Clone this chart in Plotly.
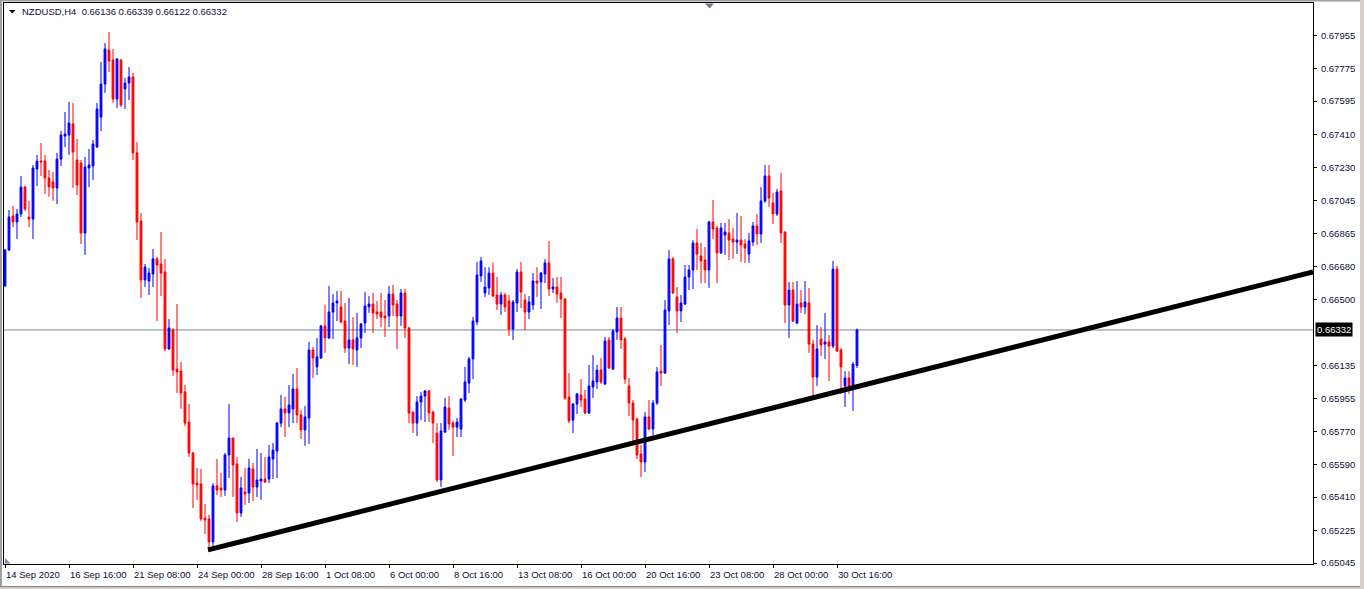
import plotly.graph_objects as go

symbol_title = "NZDUSD,H4\u00a0\u00a00.66136 0.66339 0.66122 0.66332"

opens = [0.66575, 0.66773, 0.66961, 0.66928, 0.66972, 0.67121, 0.66955, 0.66944, 0.67220, 0.67264,
         0.67264, 0.67171, 0.67149, 0.67115, 0.67275, 0.67402, 0.67408, 0.67469, 0.67270, 0.67253,
         0.66867, 0.67226, 0.67237, 0.67342, 0.67507, 0.67689, 0.67877, 0.67822, 0.67607, 0.67822,
         0.67662, 0.67695, 0.67728, 0.67309, 0.66933, 0.66608, 0.66602, 0.66641, 0.66724, 0.66696,
         0.66652, 0.66227, 0.66332, 0.66116, 0.66105, 0.65990, 0.65824, 0.65653, 0.65487, 0.65482,
         0.65294, 0.65289, 0.65162, 0.65471, 0.65460, 0.65449, 0.65642, 0.65736, 0.65592, 0.65322,
         0.65438, 0.65432, 0.65565, 0.65465, 0.65498, 0.65509, 0.65509, 0.65620, 0.65664, 0.65818,
         0.65896, 0.65874, 0.65896, 0.66006, 0.65863, 0.65780, 0.65846, 0.66221, 0.66128, 0.66177,
         0.66354, 0.66288, 0.66431, 0.66481, 0.66459, 0.66381, 0.66232, 0.66277, 0.66221, 0.66288,
         0.66370, 0.66459, 0.66475, 0.66431, 0.66431, 0.66409, 0.66409, 0.66530, 0.66475, 0.66409,
         0.66536, 0.66343, 0.65879, 0.65818, 0.65934, 0.65967, 0.65995, 0.65879, 0.65763, 0.65504,
         0.65769, 0.65901, 0.65818, 0.65796, 0.65785, 0.65945, 0.66039, 0.66172, 0.66376, 0.66630,
         0.66536, 0.66564, 0.66646, 0.66525, 0.66475, 0.66525, 0.66492, 0.66337, 0.66481, 0.66652,
         0.66497, 0.66431, 0.66470, 0.66602, 0.66597, 0.66641, 0.66702, 0.66558, 0.66569, 0.66536,
         0.66503, 0.65962, 0.65835, 0.65923, 0.65973, 0.65951, 0.65874, 0.66017, 0.66045, 0.66111,
         0.66034, 0.66277, 0.66116, 0.66321, 0.66398, 0.66282, 0.66023, 0.65929, 0.65841, 0.65647,
         0.65603, 0.65852, 0.65785, 0.65929, 0.66105, 0.66094, 0.66437, 0.66724, 0.66514, 0.66437,
         0.66475, 0.66624, 0.66663, 0.66812, 0.66740, 0.66718, 0.66663, 0.66928, 0.66895, 0.66757,
         0.66856, 0.66867, 0.66834, 0.66817, 0.66828, 0.66806, 0.66751, 0.66817, 0.66906, 0.66862,
         0.67044, 0.67182, 0.67033, 0.66972, 0.67099, 0.66873, 0.66470, 0.66552, 0.66370, 0.66481,
         0.66459, 0.66481, 0.66254, 0.66072, 0.66282, 0.66254, 0.66266, 0.66243, 0.66668, 0.66221,
         0.66023, 0.66067, 0.66023, 0.66136]

highs = [0.66779, 0.66994, 0.67016, 0.67000, 0.67182, 0.67126, 0.67044, 0.67242, 0.67298, 0.67364,
         0.67298, 0.67215, 0.67204, 0.67309, 0.67430, 0.67535, 0.67590, 0.67585, 0.67386, 0.67270,
         0.67287, 0.67331, 0.67380, 0.67585, 0.67811, 0.67916, 0.67976, 0.67883, 0.67833, 0.67827,
         0.67723, 0.67783, 0.67750, 0.67369, 0.66977, 0.66696, 0.66674, 0.66779, 0.66735, 0.66873,
         0.66724, 0.66392, 0.66343, 0.66475, 0.66155, 0.66028, 0.65923, 0.65658, 0.65570, 0.65565,
         0.65371, 0.65311, 0.65487, 0.65620, 0.65543, 0.65653, 0.65923, 0.65736, 0.65631, 0.65520,
         0.65570, 0.65620, 0.65598, 0.65675, 0.65653, 0.65631, 0.65697, 0.65708, 0.65825, 0.65973,
         0.65962, 0.66028, 0.66089, 0.66122, 0.65890, 0.65912, 0.66266, 0.66238, 0.66288, 0.66360,
         0.66470, 0.66575, 0.66530, 0.66547, 0.66547, 0.66481, 0.66508, 0.66403, 0.66426, 0.66370,
         0.66541, 0.66519, 0.66536, 0.66492, 0.66536, 0.66497, 0.66575, 0.66580, 0.66497, 0.66558,
         0.66558, 0.66348, 0.65879, 0.65967, 0.65990, 0.66001, 0.66001, 0.65885, 0.65818, 0.65818,
         0.65956, 0.65967, 0.65830, 0.65846, 0.65956, 0.66128, 0.66183, 0.66403, 0.66707, 0.66735,
         0.66679, 0.66679, 0.66702, 0.66624, 0.66541, 0.66536, 0.66525, 0.66497, 0.66668, 0.66707,
         0.66530, 0.66519, 0.66646, 0.66679, 0.66652, 0.66724, 0.66823, 0.66619, 0.66624, 0.66624,
         0.66508, 0.66094, 0.65929, 0.65984, 0.66061, 0.66001, 0.66139, 0.66194, 0.66139, 0.66177,
         0.66293, 0.66293, 0.66337, 0.66459, 0.66459, 0.66293, 0.66067, 0.65945, 0.65846, 0.65697,
         0.65879, 0.65945, 0.65945, 0.66128, 0.66249, 0.66497, 0.66773, 0.66735, 0.66569, 0.66525,
         0.66690, 0.66690, 0.66828, 0.66889, 0.66812, 0.66790, 0.66933, 0.67049, 0.66906, 0.66922,
         0.66922, 0.66944, 0.66895, 0.66977, 0.66961, 0.66834, 0.66867, 0.66928, 0.66972, 0.67121,
         0.67242, 0.67242, 0.67088, 0.67110, 0.67198, 0.66873, 0.66597, 0.66597, 0.66602, 0.66552,
         0.66602, 0.66564, 0.66277, 0.66359, 0.66348, 0.66426, 0.66304, 0.66713, 0.66685, 0.66232,
         0.66105, 0.66105, 0.66155, 0.66339]

lows = [0.66569, 0.66768, 0.66900, 0.66834, 0.66955, 0.66988, 0.66900, 0.66834, 0.67126, 0.67182,
        0.67082, 0.67066, 0.67044, 0.67027, 0.67237, 0.67342, 0.67298, 0.67115, 0.67077, 0.66806,
        0.66746, 0.67121, 0.67160, 0.67336, 0.67430, 0.67640, 0.67756, 0.67585, 0.67557, 0.67562,
        0.67551, 0.67601, 0.67270, 0.66828, 0.66508, 0.66569, 0.66525, 0.66569, 0.66381, 0.66519,
        0.66216, 0.66222, 0.66078, 0.65984, 0.65896, 0.65802, 0.65631, 0.65349, 0.65394, 0.65278,
        0.65206, 0.65107, 0.65134, 0.65421, 0.65410, 0.65416, 0.65515, 0.65410, 0.65272, 0.65300,
        0.65366, 0.65377, 0.65388, 0.65410, 0.65394, 0.65487, 0.65487, 0.65509, 0.65515, 0.65796,
        0.65741, 0.65796, 0.65818, 0.65818, 0.65730, 0.65692, 0.65703, 0.66067, 0.66083, 0.66172,
        0.66205, 0.66282, 0.66282, 0.66381, 0.66370, 0.66205, 0.66144, 0.66139, 0.66128, 0.66232,
        0.66315, 0.66426, 0.66315, 0.66392, 0.66348, 0.66293, 0.66348, 0.66409, 0.66227, 0.66354,
        0.66288, 0.65818, 0.65763, 0.65747, 0.65835, 0.65824, 0.65824, 0.65708, 0.65493, 0.65465,
        0.65763, 0.65780, 0.65636, 0.65741, 0.65741, 0.65934, 0.65984, 0.66061, 0.66359, 0.66597,
        0.66514, 0.66525, 0.66514, 0.66442, 0.66415, 0.66431, 0.66299, 0.66277, 0.66431, 0.66453,
        0.66332, 0.66392, 0.66442, 0.66514, 0.66448, 0.66591, 0.66519, 0.66536, 0.66481, 0.66398,
        0.65945, 0.65818, 0.65763, 0.65868, 0.65907, 0.65868, 0.65868, 0.65956, 0.66006, 0.66034,
        0.66028, 0.66116, 0.66111, 0.66277, 0.66227, 0.66034, 0.65857, 0.65714, 0.65620, 0.65520,
        0.65548, 0.65780, 0.65752, 0.65918, 0.66023, 0.66089, 0.66359, 0.66530, 0.66315, 0.66376,
        0.66470, 0.66552, 0.66558, 0.66663, 0.66591, 0.66591, 0.66564, 0.66834, 0.66591, 0.66751,
        0.66746, 0.66718, 0.66724, 0.66751, 0.66707, 0.66702, 0.66702, 0.66795, 0.66801, 0.66812,
        0.67033, 0.67011, 0.66917, 0.66961, 0.66812, 0.66370, 0.66288, 0.66376, 0.66365, 0.66426,
        0.66420, 0.66205, 0.65967, 0.66023, 0.66188, 0.66172, 0.66050, 0.66232, 0.66210, 0.65979,
        0.65907, 0.65979, 0.65885, 0.66122]

closes = [0.66773, 0.66955, 0.66928, 0.66972, 0.67121, 0.67000, 0.66944, 0.67226, 0.67264, 0.67259,
          0.67171, 0.67121, 0.67115, 0.67275, 0.67408, 0.67413, 0.67474, 0.67314, 0.67132, 0.66867,
          0.67231, 0.67242, 0.67358, 0.67551, 0.67689, 0.67883, 0.67816, 0.67607, 0.67827, 0.67574,
          0.67695, 0.67728, 0.67309, 0.66928, 0.66608, 0.66679, 0.66646, 0.66724, 0.66690, 0.66646,
          0.66227, 0.66343, 0.66111, 0.66100, 0.65984, 0.65818, 0.65653, 0.65482, 0.65476, 0.65289,
          0.65283, 0.65162, 0.65471, 0.65449, 0.65449, 0.65642, 0.65736, 0.65587, 0.65322, 0.65460,
          0.65427, 0.65570, 0.65465, 0.65504, 0.65509, 0.65493, 0.65631, 0.65669, 0.65818, 0.65896,
          0.65874, 0.65918, 0.66006, 0.65863, 0.65780, 0.65852, 0.66221, 0.66177, 0.66183, 0.66354,
          0.66288, 0.66431, 0.66481, 0.66492, 0.66376, 0.66232, 0.66277, 0.66227, 0.66288, 0.66365,
          0.66464, 0.66475, 0.66426, 0.66420, 0.66403, 0.66398, 0.66530, 0.66470, 0.66409, 0.66536,
          0.66343, 0.65874, 0.65818, 0.65934, 0.65967, 0.65995, 0.65874, 0.65818, 0.65504, 0.65774,
          0.65907, 0.65813, 0.65796, 0.65824, 0.65951, 0.66045, 0.66172, 0.66381, 0.66635, 0.66713,
          0.66569, 0.66646, 0.66519, 0.66475, 0.66525, 0.66459, 0.66337, 0.66486, 0.66652, 0.66541,
          0.66431, 0.66486, 0.66602, 0.66591, 0.66646, 0.66702, 0.66558, 0.66569, 0.66530, 0.66503,
          0.65956, 0.65830, 0.65923, 0.65979, 0.65945, 0.65874, 0.66023, 0.66050, 0.66111, 0.66045,
          0.66271, 0.66122, 0.66326, 0.66398, 0.66277, 0.66061, 0.65929, 0.65835, 0.65642, 0.65603,
          0.65852, 0.65785, 0.65929, 0.66100, 0.66094, 0.66442, 0.66724, 0.66536, 0.66437, 0.66481,
          0.66624, 0.66663, 0.66812, 0.66751, 0.66713, 0.66663, 0.66928, 0.66889, 0.66757, 0.66895,
          0.66873, 0.66828, 0.66817, 0.66828, 0.66801, 0.66784, 0.66823, 0.66906, 0.66862, 0.67044,
          0.67182, 0.67060, 0.66972, 0.67093, 0.66867, 0.66470, 0.66552, 0.66381, 0.66475, 0.66459,
          0.66486, 0.66254, 0.66072, 0.66227, 0.66249, 0.66266, 0.66243, 0.66668, 0.66216, 0.66128,
          0.66067, 0.66017, 0.66144, 0.66332]

bar_index = list(range(len(opens)))

tick_bars = [0, 16, 32, 48, 64, 80, 96, 112, 128, 144, 160, 176, 192, 208]
tick_labels = ["14 Sep 2020", "16 Sep 16:00", "21 Sep 08:00", "24 Sep 00:00", "28 Sep 16:00",
               "1 Oct 08:00", "6 Oct 00:00", "8 Oct 16:00", "13 Oct 08:00", "16 Oct 00:00",
               "20 Oct 16:00", "23 Oct 08:00", "28 Oct 00:00", "30 Oct 16:00"]

price_ticks = [0.65045, 0.65225, 0.65410, 0.65590, 0.65770, 0.65955, 0.66135, 0.66500,
               0.66680, 0.66865, 0.67045, 0.67230, 0.67410, 0.67595, 0.67775, 0.67955]

trend_x = [50.75, 327.0]
trend_y = [0.65118, 0.66652]

last_price = 0.66332

# ---------------- layout geometry (pixels) ----------------
W, H = 1364, 589
L, R, T, B = 4, 1313, 3, 564
FONT = "Liberation Sans, Arial, sans-serif"
TXT = "#0c0c40"


def fx(px):
    return (px - L) / (R - L)


def fy(py):
    return (B - py) / (B - T)


fig = go.Figure()

fig.add_trace(go.Candlestick(
    x=bar_index, open=opens, high=highs, low=lows, close=closes,
    increasing=dict(line=dict(color="#0000ff", width=1), fillcolor="#0000ff"),
    decreasing=dict(line=dict(color="#ff0000", width=1), fillcolor="#ff0000"),
    whiskerwidth=0, hoverinfo="skip", showlegend=False,
))

fig.add_trace(go.Scatter(
    x=trend_x, y=trend_y, mode="lines",
    line=dict(color="#000000", width=5), hoverinfo="skip", showlegend=False,
))

shapes = []
# last price line
shapes.append(dict(type="line", xref="paper", yref="y", x0=0, x1=1, y0=last_price, y1=last_price,
                   line=dict(color="#778899", width=1), layer="below"))
# window frame
shapes.append(dict(type="rect", xref="paper", yref="paper", x0=fx(0), x1=fx(2), y0=fy(589), y1=fy(0),
                   fillcolor="#a0a0a0", line=dict(width=0)))
shapes.append(dict(type="rect", xref="paper", yref="paper", x0=fx(0), x1=fx(1364), y0=fy(1.5), y1=fy(0),
                   fillcolor="#a0a0a0", line=dict(width=0)))
shapes.append(dict(type="rect", xref="paper", yref="paper", x0=fx(1360), x1=fx(1364), y0=fy(589), y1=fy(0),
                   fillcolor="#d4d0c8", line=dict(width=0)))
shapes.append(dict(type="rect", xref="paper", yref="paper", x0=fx(0), x1=fx(1364), y0=fy(589), y1=fy(586),
                   fillcolor="#d4d0c8", line=dict(width=0)))
shapes.append(dict(type="line", xref="paper", yref="paper", x0=fx(0), x1=fx(1360), y0=fy(586.5), y1=fy(586.5),
                   line=dict(color="#808080", width=1)))
# chart shift marker (top)
shapes.append(dict(type="path", xref="paper", yref="paper",
                   path=f"M {fx(705)},{fy(3.5)} L {fx(714)},{fy(3.5)} L {fx(709.5)},{fy(8.5)} Z",
                   fillcolor="#708090", line=dict(width=0)))
# small marker bottom-left
shapes.append(dict(type="path", xref="paper", yref="paper",
                   path=f"M {fx(5)},{fy(558)} L {fx(5)},{fy(563.5)} L {fx(10.5)},{fy(563.5)} Z",
                   fillcolor="#8090a0", line=dict(width=0)))
# title triangle
shapes.append(dict(type="path", xref="paper", yref="paper",
                   path=f"M {fx(9)},{fy(10)} L {fx(15.5)},{fy(10)} L {fx(12.25)},{fy(13.5)} Z",
                   fillcolor="#000000", line=dict(width=0)))

annotations = [
    dict(xref="paper", yref="paper", x=fx(19.5), y=fy(11.5), xanchor="left", yanchor="middle",
         text=symbol_title, showarrow=False, font=dict(family=FONT, size=9.5, color=TXT)),
    dict(xref="paper", yref="y", x=fx(1315), y=last_price, xanchor="left", yanchor="middle",
         text=f"{last_price:.5f}", showarrow=False, bgcolor="#000000", borderpad=1,
         font=dict(family=FONT, size=9.5, color="#ffffff")),
]

fig.update_layout(
    width=W, height=H,
    margin=dict(l=L, r=W - R, t=T, b=H - B, pad=0),
    paper_bgcolor="#ffffff", plot_bgcolor="#ffffff",
    showlegend=False, boxgap=0.35,
    shapes=shapes, annotations=annotations,
    hovermode=False,
)

fig.update_xaxes(
    range=[-0.25, 327.0], fixedrange=True, showgrid=False, zeroline=False,
    rangeslider=dict(visible=False),
    tickmode="array", tickvals=tick_bars, ticktext=tick_labels,
    ticks="outside", ticklen=3, tickcolor="#000000", tickwidth=1,
    ticklabelposition="outside right", tickangle=0, ticklabelstandoff=2,
    showline=True, linecolor="#000000", linewidth=1, mirror=True,
    tickfont=dict(family=FONT, size=9.5, color=TXT), automargin=False,
)

fig.update_yaxes(
    range=[0.650403, 0.681364], fixedrange=True, showgrid=False, zeroline=False,
    side="right", tickmode="array", tickvals=price_ticks,
    ticktext=[f"{v:.5f}" for v in price_ticks],
    ticks="outside", ticklen=3, tickcolor="#000000", tickwidth=1, ticklabelstandoff=2,
    showline=True, linecolor="#000000", linewidth=1, mirror=True,
    tickfont=dict(family=FONT, size=9.5, color=TXT), automargin=False,
)

fig.write_html(
    "out.html",
    config={"displayModeBar": False},
    post_script="document.body.style.margin='0px';document.body.style.overflow='hidden';",
)
